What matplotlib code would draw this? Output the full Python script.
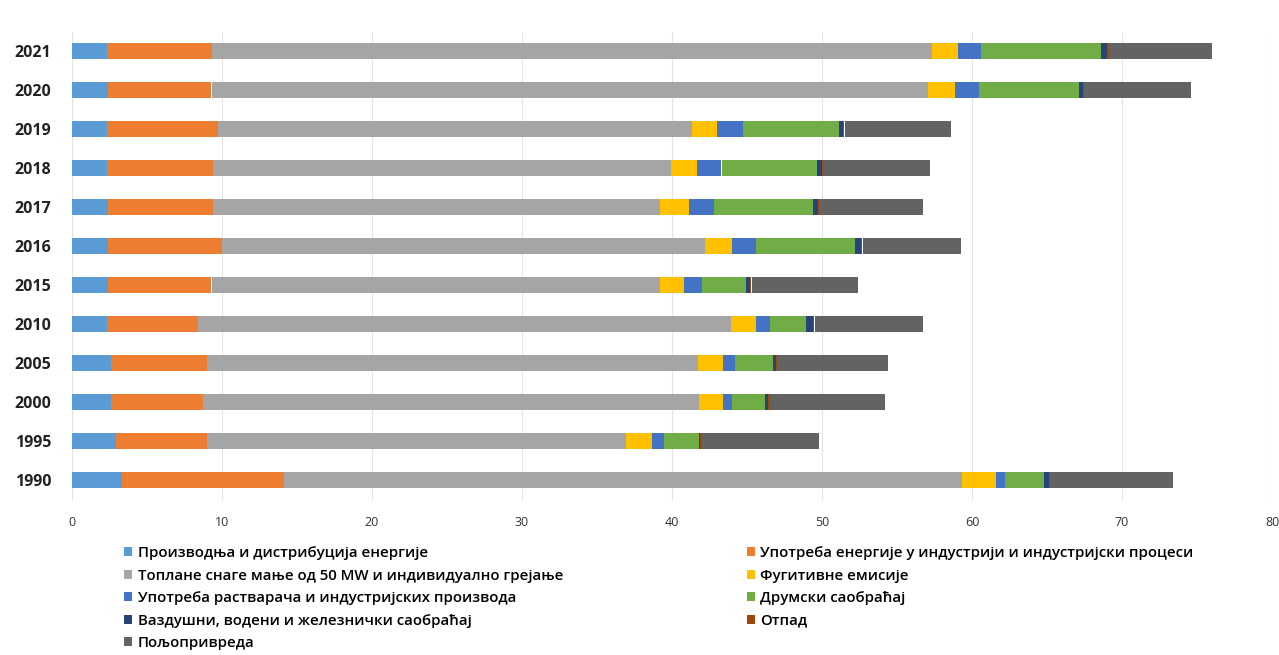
import matplotlib
matplotlib.use("Agg")
import matplotlib.pyplot as plt
from matplotlib.patches import Patch
import numpy as np

plt.rcParams['font.family'] = ['Open Sans', 'DejaVu Sans']

years = ["1990", "1995", "2000", "2005", "2010", "2015", "2016", "2017", "2018", "2019", "2020", "2021"]

series_names = [
    "Производња и дистрибуција енергије",
    "Употреба енергије у индустрији и индустријски процеси",
    "Топлане снаге мање од 50 MW и индивидуално грејање",
    "Фугитивне емисије",
    "Употреба растварача и индустријских производа",
    "Друмски саобраћај",
    "Ваздушни, водени и железнички саобраћај",
    "Отпад",
    "Пољопривреда",
]

energy     = [3.3, 2.9, 2.6, 2.6, 2.3, 2.4, 2.4, 2.4, 2.3, 2.3, 2.4, 2.3]
industry   = [10.8, 6.1, 6.1, 6.4, 6.1, 6.9, 7.6, 7.0, 7.1, 7.4, 6.9, 7.0]
heating    = [45.2, 27.9, 33.1, 32.7, 35.5, 29.9, 32.2, 29.8, 30.5, 31.6, 47.8, 48.0]
fugitive   = [2.3, 1.8, 1.6, 1.7, 1.7, 1.6, 1.8, 1.9, 1.8, 1.7, 1.8, 1.8]
solvents   = [0.6, 0.8, 0.6, 0.8, 0.9, 1.2, 1.6, 1.7, 1.6, 1.7, 1.6, 1.5]
road       = [2.6, 2.3, 2.2, 2.5, 2.4, 2.9, 6.6, 6.6, 6.4, 6.4, 6.6, 8.0]
other_tr   = [0.3, 0.1, 0.2, 0.2, 0.5, 0.3, 0.4, 0.3, 0.3, 0.3, 0.3, 0.4]
waste      = [0.1, 0.1, 0.1, 0.1, 0.1, 0.1, 0.1, 0.1, 0.1, 0.1, 0.1, 0.1]
agri       = [8.2, 7.8, 7.7, 7.4, 7.2, 7.1, 6.6, 6.9, 7.1, 7.1, 7.1, 6.9]

series = [energy, industry, heating, fugitive, solvents, road, other_tr, waste, agri]
colors = ["#5B9BD5", "#ED7D31", "#A5A5A5", "#FFC000", "#4472C4",
          "#70AD47", "#264478", "#9E480E", "#636363"]

xticks = [0, 10, 20, 30, 40, 50, 60, 70, 80]

fig = plt.figure(figsize=(12.79, 6.55), dpi=100)
ax = fig.add_axes([72/1279, 1 - 499.5/655, 1200/1279, 468/655])

y = np.arange(len(years))
left = np.zeros(len(years))
for vals, col in zip(series, colors):
    ax.barh(y, vals, left=left, height=0.4, color=col, zorder=3)
    left += np.array(vals)

ax.set_xlim(0, 80)
ax.set_ylim(-0.5, len(years) - 0.5)
ax.set_xticks(xticks)
ax.set_xticklabels([str(t) for t in xticks], fontsize=9, color="#333333")
ax.set_yticks(y)
ax.set_yticklabels(years, fontsize=11.5, fontweight="bold", color="#222222")
ax.tick_params(axis="both", length=0)
ax.tick_params(axis="x", pad=12)
ax.tick_params(axis="y", pad=15)
for s in ax.spines.values():
    s.set_visible(False)
ax.grid(axis="x", color="#E4E4E4", linewidth=0.8, zorder=0)

handles = [Patch(facecolor=c, edgecolor="none") for c in colors]
col1 = [0, 2, 4, 6, 8]
col2 = [1, 3, 5, 7]
common = dict(frameon=False, handlelength=0.55, handleheight=0.55,
              handletextpad=0.35, labelspacing=0.57, borderaxespad=0, borderpad=0,
              prop={"weight": "semibold", "size": 10.8})
fig.legend([handles[i] for i in col1], [series_names[i] for i in col1],
           loc="upper left", bbox_to_anchor=(124/1279, 1 - 546/655), **common)
fig.legend([handles[i] for i in col2], [series_names[i] for i in col2],
           loc="upper left", bbox_to_anchor=(747/1279, 1 - 546/655), **common)

fig.savefig("out.png", dpi=100, facecolor="white")
